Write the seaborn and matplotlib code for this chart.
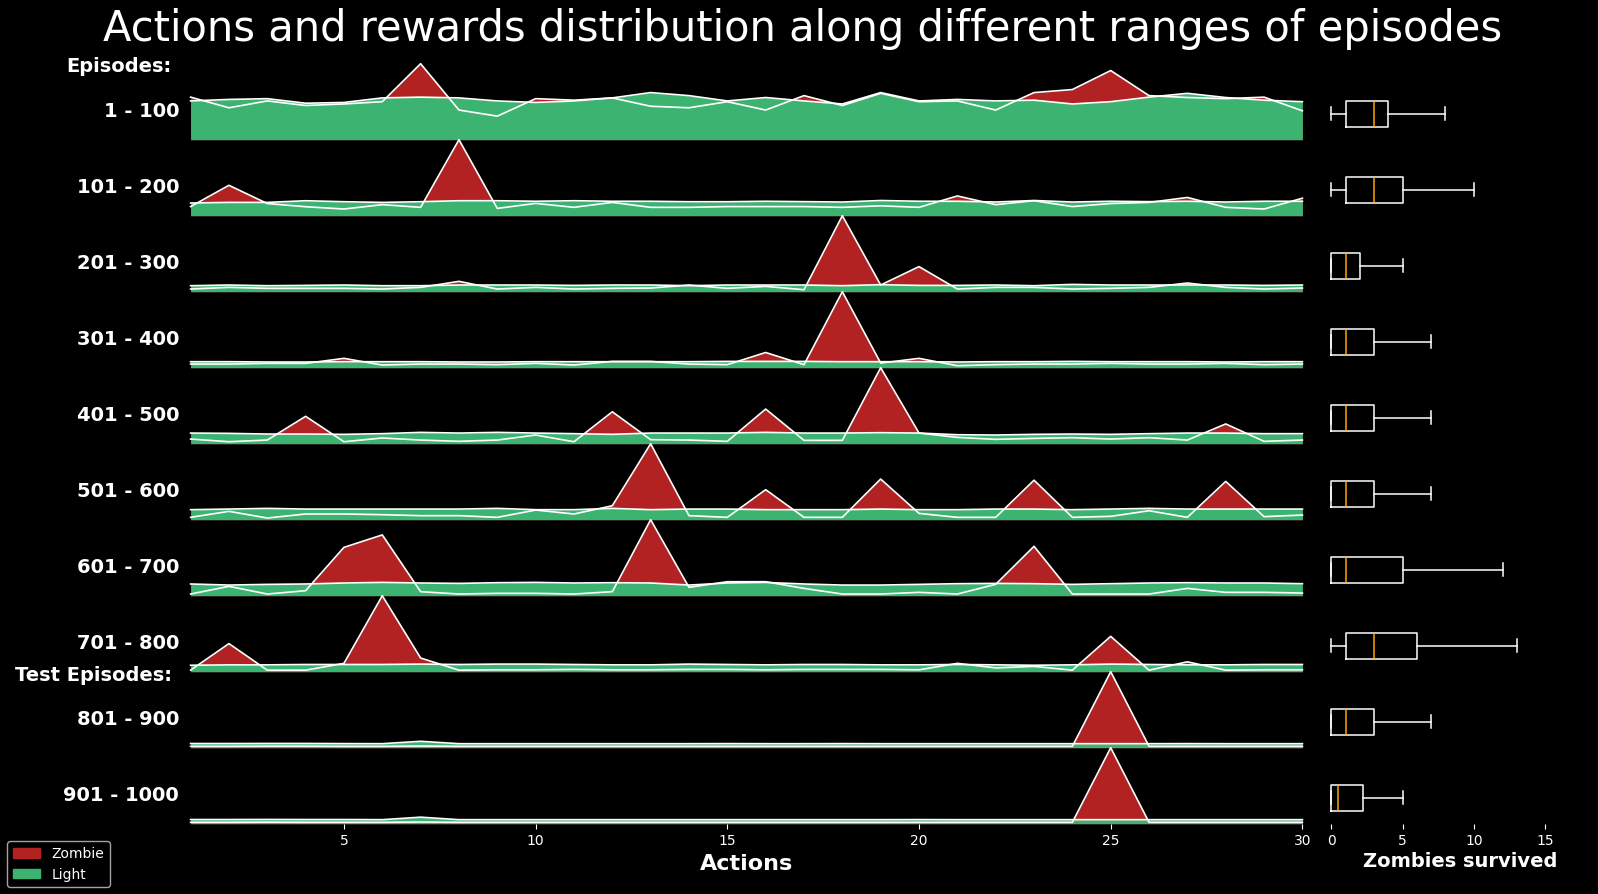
import pandas as pd
import matplotlib.pyplot as plt
import seaborn as sns
from matplotlib.patches import Patch

plt.style.use("dark_background")

# ------------------------ data ------------------------
actions = list(range(1, 31))

episode_ranges = ["1 - 100", "101 - 200", "201 - 300", "301 - 400", "401 - 500",
                  "501 - 600", "601 - 700", "701 - 800", "801 - 900", "901 - 1000"]

# relative frequency of each action per episode range (row max = 1)
zombie_freq = [
    [0.56, 0.42, 0.51, 0.45, 0.47, 0.50, 1.00, 0.39, 0.31, 0.54, 0.52, 0.55, 0.44, 0.42, 0.50,
     0.39, 0.58, 0.45, 0.61, 0.50, 0.51, 0.39, 0.62, 0.66, 0.91, 0.58, 0.555, 0.54, 0.56, 0.38],
    [0.12, 0.40, 0.16, 0.118, 0.088, 0.145, 0.11, 1.00, 0.096, 0.162, 0.11, 0.175, 0.11, 0.11, 0.12,
     0.12, 0.12, 0.11, 0.13, 0.11, 0.26, 0.145, 0.197, 0.12, 0.16, 0.175, 0.24, 0.11, 0.088, 0.23],
    [0.035, 0.057, 0.044, 0.044, 0.044, 0.035, 0.057, 0.136, 0.035, 0.057, 0.035, 0.044, 0.048, 0.088, 0.044,
     0.07, 0.026, 1.00, 0.088, 0.33, 0.035, 0.057, 0.057, 0.035, 0.044, 0.057, 0.114, 0.057, 0.035, 0.048],
    [0.048, 0.048, 0.057, 0.057, 0.123, 0.035, 0.048, 0.048, 0.04, 0.057, 0.035, 0.083, 0.083, 0.048, 0.04,
     0.20, 0.04, 1.00, 0.061, 0.123, 0.026, 0.04, 0.048, 0.048, 0.057, 0.048, 0.048, 0.057, 0.04, 0.048],
    [0.061, 0.026, 0.048, 0.36, 0.026, 0.075, 0.048, 0.031, 0.048, 0.114, 0.026, 0.42, 0.053, 0.048, 0.031,
     0.456, 0.044, 0.044, 1.00, 0.14, 0.083, 0.057, 0.07, 0.079, 0.061, 0.079, 0.048, 0.26, 0.031, 0.048],
    [0.031, 0.11, 0.022, 0.075, 0.075, 0.066, 0.053, 0.053, 0.031, 0.127, 0.075, 0.184, 1.00, 0.053, 0.031,
     0.395, 0.031, 0.031, 0.535, 0.083, 0.031, 0.031, 0.52, 0.031, 0.044, 0.118, 0.031, 0.504, 0.04, 0.061],
    [0.022, 0.123, 0.022, 0.066, 0.636, 0.80, 0.053, 0.022, 0.031, 0.031, 0.022, 0.053, 1.00, 0.11, 0.184,
     0.184, 0.096, 0.022, 0.022, 0.044, 0.022, 0.15, 0.65, 0.022, 0.022, 0.022, 0.096, 0.044, 0.044, 0.035],
    [0.02, 0.37, 0.02, 0.02, 0.11, 1.00, 0.18, 0.02, 0.025, 0.025, 0.03, 0.025, 0.025, 0.03, 0.03,
     0.025, 0.03, 0.03, 0.03, 0.025, 0.11, 0.05, 0.07, 0.02, 0.465, 0.02, 0.13, 0.02, 0.025, 0.025],
    [0.018, 0.018, 0.02, 0.02, 0.018, 0.018, 0.022, 0.018, 0.018, 0.018, 0.018, 0.018, 0.018, 0.018, 0.018,
     0.018, 0.018, 0.018, 0.018, 0.018, 0.018, 0.018, 0.018, 0.018, 1.00, 0.018, 0.018, 0.018, 0.018, 0.018],
    [0.018, 0.018, 0.02, 0.018, 0.018, 0.018, 0.022, 0.018, 0.018, 0.018, 0.018, 0.018, 0.018, 0.018, 0.018,
     0.018, 0.018, 0.018, 0.018, 0.018, 0.018, 0.018, 0.018, 0.018, 1.00, 0.018, 0.018, 0.018, 0.018, 0.018],
]

light_freq = [
    [0.51, 0.53, 0.54, 0.48, 0.49, 0.55, 0.56, 0.55, 0.51, 0.49, 0.51, 0.55, 0.62, 0.58, 0.51,
     0.555, 0.51, 0.47, 0.62, 0.51, 0.53, 0.51, 0.52, 0.47, 0.50, 0.56, 0.61, 0.555, 0.52, 0.50],
    [0.167, 0.175, 0.175, 0.197, 0.184, 0.175, 0.184, 0.197, 0.197, 0.19, 0.197, 0.19, 0.19, 0.184, 0.184,
     0.19, 0.185, 0.18, 0.20, 0.19, 0.19, 0.18, 0.20, 0.18, 0.19, 0.185, 0.19, 0.18, 0.19, 0.19],
    [0.079, 0.088, 0.079, 0.083, 0.088, 0.079, 0.079, 0.088, 0.088, 0.088, 0.083, 0.088, 0.088, 0.079, 0.088,
     0.088, 0.088, 0.079, 0.092, 0.083, 0.083, 0.088, 0.079, 0.096, 0.088, 0.088, 0.088, 0.088, 0.083, 0.088],
    [0.079, 0.079, 0.075, 0.075, 0.079, 0.079, 0.079, 0.075, 0.075, 0.079, 0.079, 0.079, 0.079, 0.079, 0.083,
     0.083, 0.083, 0.079, 0.079, 0.079, 0.075, 0.079, 0.079, 0.083, 0.079, 0.079, 0.079, 0.075, 0.079, 0.079],
    [0.14, 0.136, 0.127, 0.127, 0.123, 0.132, 0.149, 0.14, 0.149, 0.14, 0.132, 0.123, 0.14, 0.14, 0.14,
     0.149, 0.14, 0.14, 0.145, 0.14, 0.118, 0.114, 0.123, 0.127, 0.123, 0.132, 0.14, 0.14, 0.132, 0.132],
    [0.132, 0.14, 0.149, 0.14, 0.14, 0.14, 0.14, 0.14, 0.149, 0.132, 0.132, 0.149, 0.132, 0.14, 0.14,
     0.132, 0.132, 0.132, 0.14, 0.132, 0.132, 0.14, 0.14, 0.132, 0.14, 0.149, 0.14, 0.14, 0.14, 0.14],
    [0.154, 0.14, 0.149, 0.154, 0.167, 0.175, 0.167, 0.162, 0.171, 0.175, 0.167, 0.171, 0.167, 0.14, 0.167,
     0.175, 0.154, 0.14, 0.14, 0.149, 0.158, 0.162, 0.158, 0.149, 0.158, 0.167, 0.171, 0.167, 0.167, 0.158],
    [0.085, 0.09, 0.09, 0.095, 0.095, 0.095, 0.10, 0.095, 0.10, 0.10, 0.095, 0.09, 0.09, 0.10, 0.095,
     0.09, 0.095, 0.095, 0.09, 0.09, 0.095, 0.09, 0.085, 0.09, 0.10, 0.095, 0.09, 0.09, 0.095, 0.095],
    [0.055, 0.055, 0.056, 0.056, 0.054, 0.053, 0.084, 0.053, 0.053, 0.053, 0.053, 0.053, 0.053, 0.053, 0.054,
     0.053, 0.053, 0.054, 0.053, 0.053, 0.053, 0.053, 0.053, 0.053, 0.053, 0.053, 0.054, 0.053, 0.053, 0.053],
    [0.055, 0.055, 0.056, 0.055, 0.055, 0.053, 0.086, 0.053, 0.053, 0.053, 0.053, 0.053, 0.053, 0.053, 0.053,
     0.053, 0.053, 0.053, 0.053, 0.054, 0.053, 0.053, 0.053, 0.053, 0.053, 0.053, 0.053, 0.053, 0.053, 0.053],
]

# zombies survived per episode range (five-number summary)
box_min = [0, 0, 0, 0, 0, 0, 0, 0, 0, 0]
box_q1 = [1, 1, 0, 0, 0, 0, 0, 1, 0, 0]
box_med = [3, 3, 1, 1, 1, 1, 1, 3, 1, 0.5]
box_q3 = [4, 5, 2, 3, 3, 3, 5, 6, 3, 2.25]
box_max = [8, 10, 5, 7, 7, 7, 12, 13, 7, 5]

# ------------------------ layout (pixels) ------------------------
W, H = 1598, 895
ridge_x0, ridge_x1 = 190.6, 1302.4
box_x0, box_x1 = 1324.2, 1559.6
row_top, row_h = 64.7, 76.0

fig = plt.figure(figsize=(W / 100, H / 100), dpi=100)
fig.patch.set_facecolor("black")

n = len(episode_ranges)
for i, label in enumerate(episode_ranges):
    bottom = 1 - (row_top + (i + 1) * row_h) / H

    # ridge row
    ax = fig.add_axes([ridge_x0 / W, bottom, (ridge_x1 - ridge_x0) / W, row_h / H])
    ax.patch.set_alpha(0)
    df = pd.DataFrame({"action": actions, "Zombie": zombie_freq[i], "Light": light_freq[i]})
    ax.fill_between(df["action"], df["Zombie"], color="firebrick", lw=0)
    ax.fill_between(df["action"], df["Light"], color="mediumseagreen", lw=0)
    sns.lineplot(data=df, x="action", y="Zombie", color="white", lw=1.2, ax=ax, clip_on=False)
    sns.lineplot(data=df, x="action", y="Light", color="white", lw=1.2, ax=ax, clip_on=False)
    ax.set_xlim(1, 30)
    ax.set_ylim(0, max(df["Zombie"].max(), df["Light"].max()))
    ax.set_xlabel("")
    ax.set_ylabel("")
    ax.set_yticks([])
    for s in ax.spines.values():
        s.set_visible(False)
    if i < n - 1:
        ax.set_xticks([])
    else:
        ax.set_xticks([5, 10, 15, 20, 25, 30])
        ax.tick_params(axis="x", labelsize=10, colors="white")
    ax.text(-0.0104, 0.39, label, transform=ax.transAxes, ha="right", va="center",
            fontsize=14, fontweight="bold", color="white")

    # boxplot row
    bax = fig.add_axes([box_x0 / W, bottom, (box_x1 - box_x0) / W, row_h / H])
    bax.patch.set_alpha(0)
    stats = [dict(whislo=box_min[i], q1=box_q1[i], med=box_med[i], q3=box_q3[i],
                  whishi=box_max[i], fliers=[])]
    bax.bxp(stats, positions=[0.34], widths=[0.34], orientation="horizontal", showfliers=False,
            boxprops=dict(color="white", lw=1.1), whiskerprops=dict(color="white", lw=1.1),
            capprops=dict(color="white", lw=1.1), medianprops=dict(color="orange", lw=1.1))
    bax.set_xlim(-0.5, 16)
    bax.set_ylim(0, 1)
    bax.set_yticks([])
    for s in bax.spines.values():
        s.set_visible(False)
    if i < n - 1:
        bax.set_xticks([])
    else:
        bax.set_xticks([0, 5, 10, 15])
        bax.tick_params(axis="x", labelsize=10, colors="white")

# ------------------------ text ------------------------
fig.text(802.6 / W, 1 - 28.5 / H, "Actions and rewards distribution along different ranges of episodes",
         ha="center", va="center", fontsize=30, color="white")
fig.text(172 / W, 1 - 67 / H, "Episodes:", ha="right", va="center", fontsize=14,
         fontweight="bold", color="white")
fig.text(172 / W, 1 - 676 / H, "Test Episodes:", ha="right", va="center", fontsize=14,
         fontweight="bold", color="white")
fig.text(747 / W, 1 - 864 / H, "Actions", ha="center", va="center", fontsize=16,
         fontweight="bold", color="white")
fig.text(1460 / W, 1 - 862 / H, "Zombies survived", ha="center", va="center", fontsize=14,
         fontweight="bold", color="white")

fig.legend(handles=[Patch(color="firebrick", label="Zombie"), Patch(color="mediumseagreen", label="Light")],
           loc="lower left", bbox_to_anchor=(7 / W, 7 / H), borderaxespad=0, fontsize=10,
           facecolor="black", edgecolor="0.8")

fig.savefig("out.png", dpi=100, facecolor="black")
